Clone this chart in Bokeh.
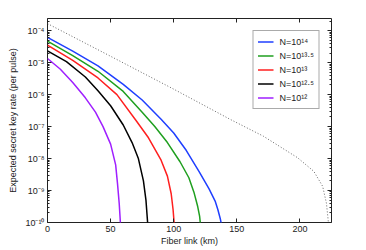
from bokeh.plotting import figure
from bokeh.models import (LinearAxis, LogAxis, FixedTicker, CustomJSTickFormatter,
                          Legend, LegendItem, Range1d)
from bokeh.embed import file_html
from bokeh.resources import INLINE

# ---- data ----
km_n14 = [0, 20, 40, 60, 75, 90, 100, 110, 120, 128, 133, 135, 137, 138]
rate_n14 = [6.17e-5, 2.29e-5, 7.94e-6, 2.09e-6, 6.76e-7, 1.70e-7, 6.31e-8, 1.78e-8,
            3.98e-9, 1.12e-9, 4.47e-10, 2.51e-10, 1.26e-10, 7.9e-11]

km_n135 = [0, 20, 40, 60, 75, 85, 95, 105, 112, 116, 119, 120.5, 121.3]
rate_n135 = [4.68e-5, 1.66e-5, 5.37e-6, 1.26e-6, 2.82e-7, 1.0e-7, 3.16e-8, 7.94e-9,
             2.51e-9, 8.91e-10, 3.16e-10, 1.58e-10, 7.94e-11]

km_n13 = [0, 20, 40, 55, 70, 80, 90, 95, 98, 99.5, 100.5]
rate_n13 = [3.55e-5, 1.17e-5, 3.31e-6, 1.0e-6, 1.58e-7, 4.47e-8, 8.91e-9, 2.82e-9,
            7.94e-10, 2.51e-10, 7.94e-11]

km_n125 = [0, 15, 30, 40, 50, 60, 67, 72, 76, 78, 79.5]
rate_n125 = [2.34e-5, 1.07e-5, 3.55e-6, 1.32e-6, 4.47e-7, 1.12e-7, 3.16e-8, 1.0e-8,
             2.0e-9, 5.01e-10, 7.94e-11]

km_n12 = [0, 10, 20, 30, 38, 44, 50, 54, 55.5, 56.8, 57.9]
rate_n12 = [1.35e-5, 6.31e-6, 2.40e-6, 7.94e-7, 2.82e-7, 1.0e-7, 2.82e-8, 6.31e-9,
            1.58e-9, 3.98e-10, 7.94e-11]

km_bound = [0, 50, 100, 145, 171, 198, 211, 218, 221, 222.8]
rate_bound = [1.66e-4, 1.58e-5, 1.48e-6, 1.66e-7, 5.01e-8, 1.07e-8, 3.98e-9, 1.35e-9,
              3.98e-10, 7.94e-11]

series_labels = ["N=10\u00b9\u2074", "N=10\u00b9\u00b3\u00b7\u2075", "N=10\u00b9\u00b3",
                 "N=10\u00b9\u00b2\u00b7\u2075", "N=10\u00b9\u00b2"]
series_colors = ["#1f3fff", "#1f9f1f", "#ff1f1f", "#000000", "#9f1fff"]

x_ticks = [0, 50, 100, 150, 200]
y_ticks = [1e-10, 1e-9, 1e-8, 1e-7, 1e-6, 1e-5, 1e-4]

FONT = "Liberation Sans"

p = figure(width=366, height=250, x_range=Range1d(0, 225), y_range=Range1d(1e-10, 2.4e-4),
           y_axis_type="log", output_backend="svg", toolbar_location=None,
           min_border_left=47, min_border_right=35, min_border_top=18, min_border_bottom=28)
p.grid.visible = False
p.outline_line_color = "#222222"
p.outline_line_width = 1
p.background_fill_color = "white"
p.border_fill_color = "white"

# dotted bound
p.line(km_bound, rate_bound, line_color="#666666", line_width=1, line_dash="1 2")

renderers = []
for xs, ys, c in zip([km_n14, km_n135, km_n13, km_n125, km_n12],
                     [rate_n14, rate_n135, rate_n13, rate_n125, rate_n12], series_colors):
    renderers.append(p.line(xs, ys, line_color=c, line_width=1.5))

minor = []
for d in range(-10, -3):
    for k in range(2, 10):
        minor.append(k * 10.0 ** d)

sup_js = """
const m = {'-':'\\u207b','0':'\\u2070','1':'\\u00b9','2':'\\u00b2','3':'\\u00b3','4':'\\u2074',
           '5':'\\u2075','6':'\\u2076','7':'\\u2077','8':'\\u2078','9':'\\u2079'};
const e = Math.round(Math.log10(tick));
return '10' + String(e).split('').map(c => m[c]).join('');
"""

def style(ax):
    ax.major_tick_in = 4
    ax.major_tick_out = 0
    ax.minor_tick_in = 2
    ax.minor_tick_out = 0
    ax.axis_line_color = None
    ax.major_tick_line_color = "#222222"
    ax.minor_tick_line_color = "#222222"
    ax.major_label_text_font = FONT
    ax.major_label_text_font_size = "9px"
    ax.major_label_text_color = "#222222"
    ax.axis_label_text_font = FONT
    ax.axis_label_text_font_size = "9px"
    ax.axis_label_text_font_style = "normal"
    ax.axis_label_text_color = "#222222"

xb = p.xaxis[0]
xb.ticker = FixedTicker(ticks=x_ticks)
xb.axis_label = "Fiber link (km)"
style(xb)
xb.major_label_standoff = 3
xb.axis_label_standoff = 1

yl = p.yaxis[0]
yl.ticker = FixedTicker(ticks=y_ticks, minor_ticks=minor)
yl.formatter = CustomJSTickFormatter(code=sup_js)
yl.axis_label = "Expected secret key rate (per pulse)"
style(yl)
yl.major_label_standoff = 3
yl.axis_label_standoff = 4

xt = LinearAxis(ticker=FixedTicker(ticks=x_ticks))
style(xt)
xt.major_label_text_font_size = "1px"
xt.major_label_text_alpha = 0
xt.major_label_standoff = 0
p.add_layout(xt, "above")

yr = LogAxis(ticker=FixedTicker(ticks=y_ticks, minor_ticks=minor))
style(yr)
yr.major_label_text_font_size = "1px"
yr.major_label_text_alpha = 0
yr.major_label_standoff = 0
p.add_layout(yr, "right")

legend = Legend(items=[LegendItem(label=l, renderers=[r]) for l, r in zip(series_labels, renderers)],
                location="top_right")
legend.margin = 12
legend.padding = 4
legend.spacing = 1
legend.label_height = 13
legend.glyph_height = 13
legend.glyph_width = 16
legend.label_standoff = 6
legend.label_text_font = FONT
legend.label_text_font_size = "9px"
legend.label_text_color = "#222222"
legend.border_line_color = "#555555"
legend.border_line_width = 1
legend.background_fill_alpha = 1
p.add_layout(legend)

open("out.html", "w").write(file_html(p, INLINE))
